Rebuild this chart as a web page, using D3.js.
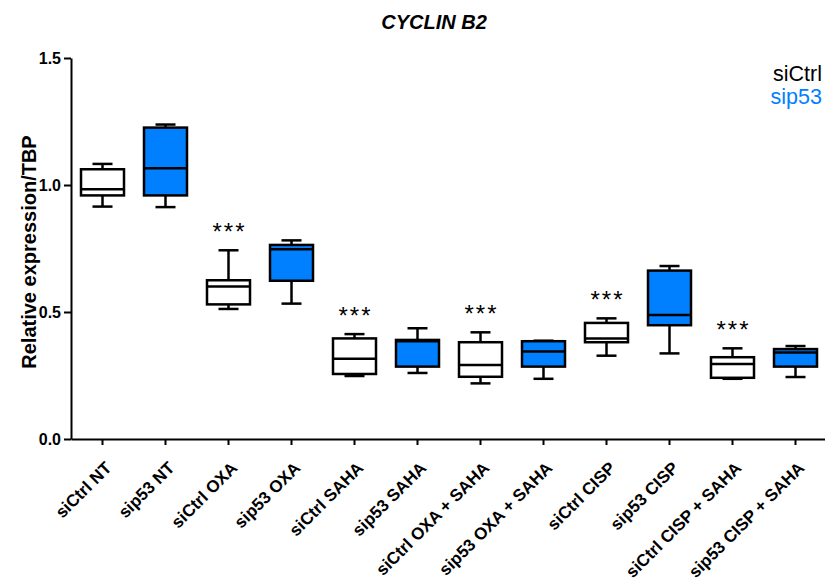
<!DOCTYPE html>
<html><head><meta charset="utf-8">
<script src="https://cdn.jsdelivr.net/npm/d3@7"></script>
<style>body{margin:0;background:#fff;}text{font-family:"Liberation Sans",Arial,sans-serif;}</style>
</head><body><svg id="c" width="825" height="581"></svg>
<script>
const categories = ["siCtrl NT","sip53 NT","siCtrl OXA","sip53 OXA","siCtrl SAHA","sip53 SAHA","siCtrl OXA + SAHA","sip53 OXA + SAHA","siCtrl CISP","sip53 CISP","siCtrl CISP + SAHA","sip53 CISP + SAHA"];
const groups = ["siCtrl","sip53","siCtrl","sip53","siCtrl","sip53","siCtrl","sip53","siCtrl","sip53","siCtrl","sip53"];
const whiskerLow = [0.915,0.913,0.512,0.533,0.248,0.260,0.219,0.237,0.328,0.337,0.237,0.244];
const q1 =         [0.959,0.959,0.530,0.623,0.256,0.285,0.245,0.285,0.381,0.448,0.241,0.285];
const median =     [0.983,1.066,0.600,0.747,0.316,0.385,0.291,0.344,0.396,0.488,0.295,0.341];
const q3 =         [1.062,1.226,0.625,0.764,0.396,0.390,0.381,0.385,0.457,0.663,0.322,0.354];
const whiskerHigh =[1.083,1.238,0.743,0.782,0.413,0.436,0.420,0.387,0.475,0.681,0.357,0.366];
const significance = ["","","***","","***","","***","","***","","***",""];
const yTicks = [0.0,0.5,1.0,1.5];
const colors = {siCtrl:"#ffffff", sip53:"#0080ff"};
const legendColors = {siCtrl:"#000000", sip53:"#0080ff"};

const svg = d3.select("#c");
const x = d3.scaleBand().domain(categories).range([71,827]).padding(0);
const y = d3.scaleLinear().domain([0,1.5]).range([439,58]);
const boxW = 43, capW = 20;

svg.append("text").attr("x",434).attr("y",29).attr("text-anchor","middle")
  .style("font-size","20px").style("font-weight","bold").style("font-style","italic").text("CYCLIN B2");

// y axis
const ya = svg.append("g").attr("transform","translate(71,0)")
  .call(d3.axisLeft(y).tickValues(yTicks).tickFormat(d3.format(".1f")).tickSize(7).tickSizeOuter(0));
ya.select(".domain").attr("stroke","#000").attr("stroke-width",2);
ya.selectAll(".tick line").attr("stroke-width",2);
ya.selectAll(".tick text").style("font-size","16px").style("font-weight","bold").attr("x",-10);

// x axis
const xa = svg.append("g").attr("transform","translate(0,439)")
  .call(d3.axisBottom(x).tickSize(6).tickSizeOuter(0));
xa.select(".domain").attr("stroke","#000").attr("stroke-width",2);
xa.selectAll(".tick line").attr("stroke-width",2);
xa.selectAll(".tick text").style("font-size","17px").style("font-weight","bold")
  .attr("text-anchor","end").attr("dy","0").attr("y",0)
  .attr("transform","translate(10,30) rotate(-45)");

svg.append("text").attr("transform","translate(36,252) rotate(-90)").attr("text-anchor","middle")
  .style("font-size","20px").style("font-weight","bold").text("Relative expression/TBP");

const g = svg.append("g");
categories.forEach((c,i)=>{
  const cx = x(c) + x.bandwidth()/2;
  const line=(x1,y1,x2,y2)=>g.append("line").attr("x1",x1).attr("y1",y1).attr("x2",x2).attr("y2",y2)
     .attr("stroke","#000").attr("stroke-width",2.5);
  line(cx,y(whiskerHigh[i]),cx,y(q3[i]));
  line(cx,y(whiskerLow[i]),cx,y(q1[i]));
  line(cx-capW/2,y(whiskerHigh[i]),cx+capW/2,y(whiskerHigh[i]));
  line(cx-capW/2,y(whiskerLow[i]),cx+capW/2,y(whiskerLow[i]));
  g.append("rect").attr("x",cx-boxW/2).attr("y",y(q3[i])).attr("width",boxW)
    .attr("height",y(q1[i])-y(q3[i])).attr("fill",colors[groups[i]]).attr("stroke","#000").attr("stroke-width",2.5);
  line(cx-boxW/2,y(median[i]),cx+boxW/2,y(median[i]));
  if(significance[i]) g.append("text").attr("x",cx+1).attr("y",y(whiskerHigh[i])-10).attr("text-anchor","middle")
    .style("font-size","24px").style("letter-spacing","2px").text(significance[i]);
});

const lg = ["siCtrl","sip53"];
lg.forEach((k,i)=>svg.append("text").attr("x",822).attr("y",81+i*22.5).attr("text-anchor","end")
  .style("font-size","21.5px").attr("fill",legendColors[k]).text(k));
</script></body></html>
